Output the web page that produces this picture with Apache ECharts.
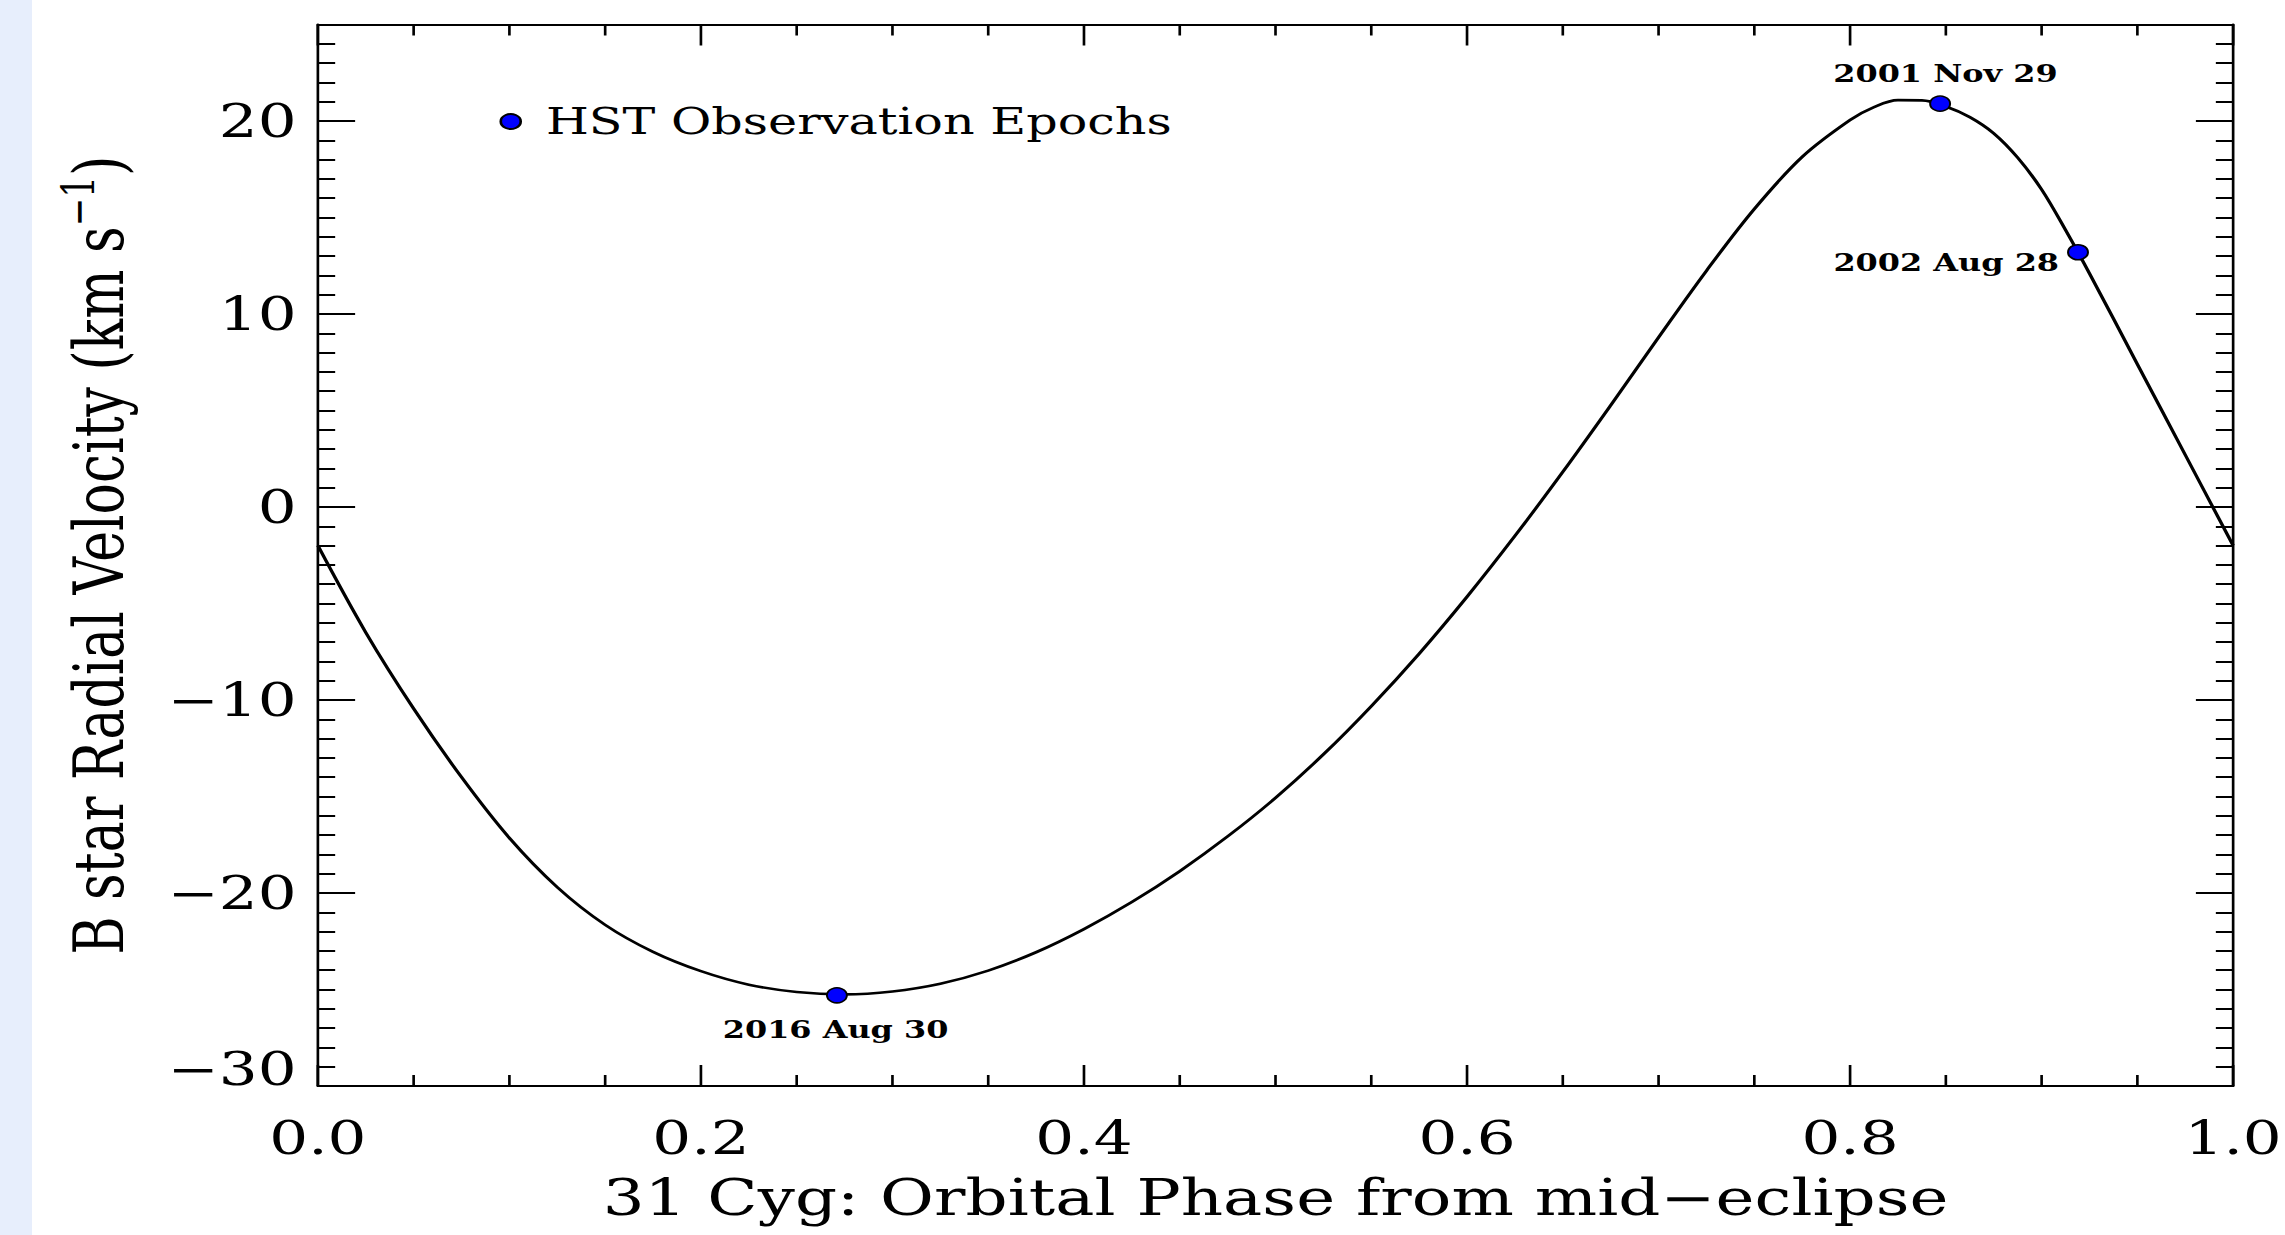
<!DOCTYPE html>
<html>
<head>
<meta charset="utf-8">
<title>31 Cyg: B star radial velocity</title>
<script src="https://cdn.jsdelivr.net/npm/echarts@6.0.0/dist/echarts.min.js"></script>
<style>
  html, body { margin: 0; padding: 0; width: 2285px; height: 1235px; overflow: hidden; background: #fff; }
  #strip { position: absolute; left: 0; top: 0; width: 32px; height: 1235px; background: #e7eefc; }
  /* the original figure is stretched sideways, so the chart is drawn narrower and widened */
  #chart { position: absolute; left: 0; top: 0; width: 1718px; height: 1235px; transform: scaleX(1.33004); transform-origin: 0 0; }
</style>
</head>
<body>
<div id="strip"></div>
<div id="chart"></div>
<script>
// orbital phase / B star radial velocity (km/s)
const phase = [0, 0.025, 0.05, 0.075, 0.1, 0.125, 0.15, 0.175, 0.2, 0.225, 0.25, 0.275, 0.3, 0.325,
  0.35, 0.375, 0.4, 0.425, 0.45, 0.475, 0.5, 0.525, 0.55, 0.575, 0.6, 0.625, 0.65, 0.675,
  0.7, 0.725, 0.75, 0.775, 0.8, 0.8125, 0.825, 0.8375, 0.85, 0.8625, 0.875, 0.8875, 0.9, 0.9125,
  0.925, 0.95, 0.975, 1.0]
const velocity = [-2.0, -6.5, -10.45, -14.0, -17.15, -19.7, -21.65, -23.05, -24.05, -24.75, -25.13, -25.25, -25.1, -24.7,
  -24.02, -23.07, -21.87, -20.47, -18.87, -17.07, -15.07, -12.82, -10.32, -7.6, -4.65, -1.5, 1.82, 5.27,
  8.79, 12.24, 15.44, 18.14, 20.05, 20.72, 21.08, 21.07, 20.75, 20.2, 19.36, 18.1, 16.45, 14.35,
  12.1, 7.4, 2.7, -2.0]

// HST observation epochs
const epochNames = ['2016 Aug 30', '2001 Nov 29', '2002 Aug 28']
const epochPhase = [0.271, 0.847, 0.919]
const epochVelocity = [-25.3, 20.9, 13.2]

const xMin = 0
const xMax = 1
const xStep = 0.2
const yMin = -30
const yMax = 25
const yStep = 10

const FONT = 'DejaVu Serif'
const black = '#000'

const chart = echarts.init(document.getElementById('chart'), null, { renderer: 'svg' })

const lineStyle = { color: black, width: 2 }

function xAxisOf(pos) {
  return {
    type: 'value',
    position: pos,
    min: xMin,
    max: xMax,
    interval: xStep,
    axisLine: { show: true, onZero: false, lineStyle },
    axisTick: { show: true, inside: true, length: 21, lineStyle },
    minorTick: { show: true, splitNumber: 4, length: 11, lineStyle },
    splitLine: { show: false },
    axisLabel: {
      show: pos === 'bottom',
      margin: 29,
      fontFamily: FONT,
      fontSize: 46,
      color: black,
      formatter: v => v.toFixed(1)
    }
  }
}

function yAxisOf(pos) {
  return {
    type: 'value',
    position: pos,
    min: yMin,
    max: yMax,
    interval: yStep,
    axisLine: { show: true, onZero: false, lineStyle },
    axisTick: { show: true, inside: true, length: 28, lineStyle },
    minorTick: { show: true, splitNumber: 10, length: 13, lineStyle },
    splitLine: { show: false },
    axisLabel: {
      show: pos === 'left',
      margin: 16,
      fontFamily: FONT,
      fontSize: 46,
      color: black,
      formatter: function (v) {
        if (v > 20) return ''
        const s = String(v).replace('-', '\u2212')
        return v === yMin ? '{low|' + s + '}' : s
      },
      rich: {
        low: { fontFamily: FONT, fontSize: 46, color: black, padding: [0, 0, 34, 0] }
      }
    }
  }
}

const xBottom = xAxisOf('bottom')
xBottom.name = '31 Cyg: Orbital Phase from mid\u2212eclipse'
xBottom.nameLocation = 'middle'
xBottom.nameGap = 87
xBottom.nameTextStyle = { fontFamily: FONT, fontSize: 49.5, color: black }

const yLeft = yAxisOf('left')
yLeft.name = '{a|B star Radial Velocity (km s}{b|\u22121}{a|)}'
yLeft.nameLocation = 'middle'
yLeft.nameGap = 133
yLeft.nameTextStyle = {
  rich: {
    a: { fontFamily: FONT, fontSize: 52, lineHeight: 64, color: black },
    b: { fontFamily: FONT, fontSize: 34, lineHeight: 32, color: black, verticalAlign: 'top' }
  }
}

const labelPlace = [
  { position: 'bottom', distance: 14, offset: [-1, 0] },
  { position: 'top', distance: 10, offset: [4, 0] },
  { position: 'left', distance: 6, offset: [0, 10] }
]

chart.setOption({
  animation: false,
  backgroundColor: 'transparent',
  grid: {
    left: 239,
    right: 39,
    top: 24.5,
    bottom: 149,
    containLabel: false,
    outerBoundsMode: 'none'
  },
  legend: {
    data: ['HST Observation Epochs'],
    left: 370.5,
    top: 98,
    icon: 'circle',
    itemWidth: 15,
    itemHeight: 15,
    selectedMode: false,
    textStyle: { fontFamily: FONT, fontSize: 37, color: black, padding: [0, 0, 0, 14] }
  },
  xAxis: [xBottom, xAxisOf('top')],
  yAxis: [yLeft, yAxisOf('right')],
  series: [
    {
      type: 'line',
      data: phase.map((p, i) => [p, velocity[i]]),
      smooth: 0.35,
      symbol: 'none',
      showSymbol: false,
      silent: true,
      lineStyle: { color: black, width: 2.6 },
      z: 2
    },
    {
      name: 'HST Observation Epochs',
      type: 'scatter',
      symbol: 'circle',
      symbolSize: 15,
      itemStyle: { color: '#0000ff', borderColor: black, borderWidth: 1.5, opacity: 1 },
      label: {
        show: true,
        formatter: '{b}',
        fontFamily: FONT,
        fontWeight: 'bold',
        fontSize: 24,
        color: black
      },
      data: epochPhase.map((p, i) => ({
        name: epochNames[i],
        value: [p, epochVelocity[i]],
        label: labelPlace[i]
      })),
      z: 3
    }
  ]
})
</script>
</body>
</html>
